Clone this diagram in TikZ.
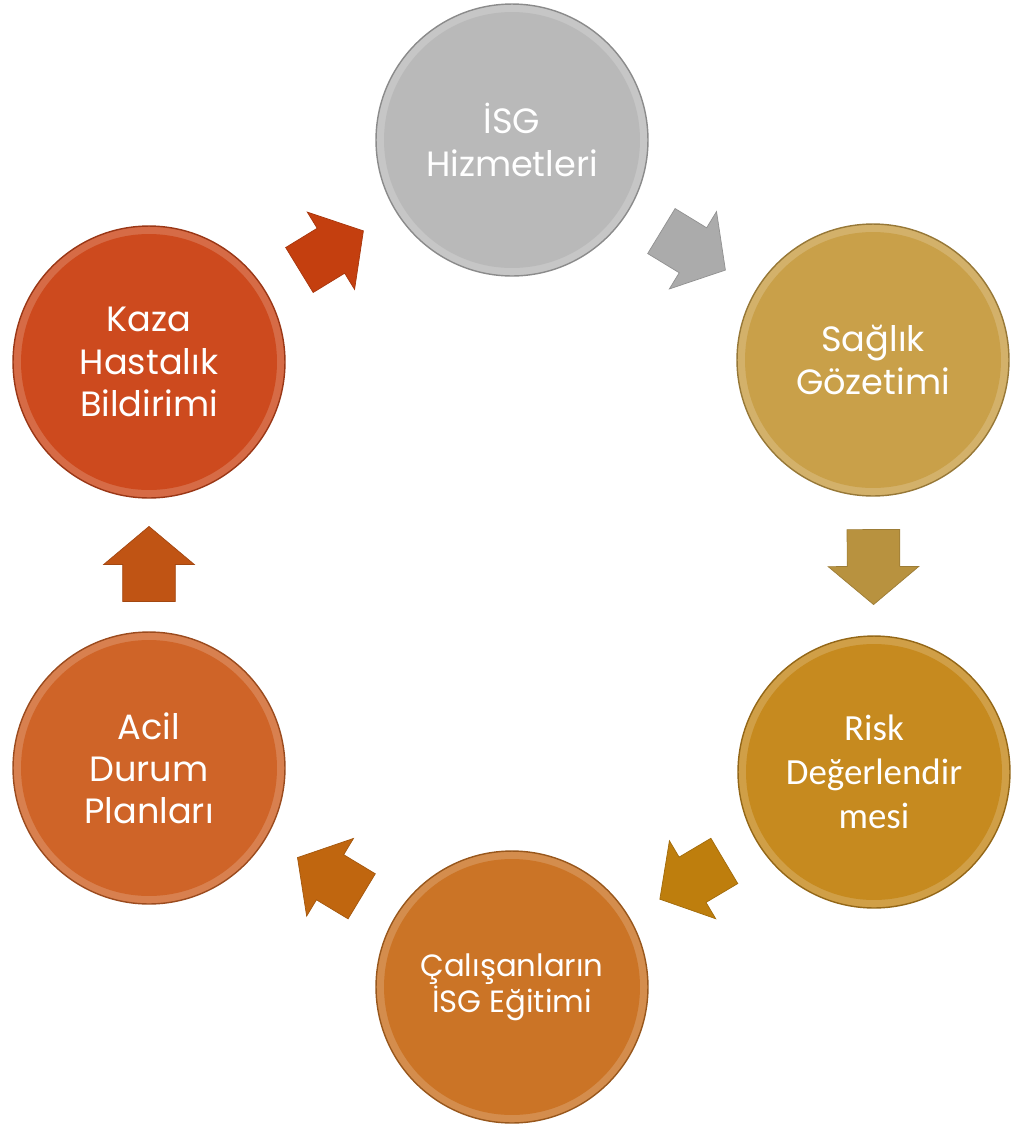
\documentclass[tikz,border=0pt]{standalone}
\usepackage{fontspec}
\setmainfont{Poppins}
\newfontfamily\calibrifont{Carlito}
\usetikzlibrary{shapes.arrows,calc}

\definecolor{isggray}{HTML}{B9B9B9}
\definecolor{saglikgold}{HTML}{C9A049}
\definecolor{riskgold}{HTML}{C68A1F}
\definecolor{egitimorange}{HTML}{CB7426}
\definecolor{acilorange}{HTML}{CF6428}
\definecolor{kazared}{HTML}{CD4A1E}
\definecolor{arrgray}{HTML}{ABABAB}
\definecolor{arrgold}{HTML}{B8923F}
\definecolor{arrrisk}{HTML}{BE7E0D}
\definecolor{arregitim}{HTML}{C0660F}
\definecolor{arracil}{HTML}{C05414}
\definecolor{arrkaza}{HTML}{C43F0F}

\tikzset{
  cyc_node/.style = {circle, minimum size=5.44cm, inner sep=0pt, align=center,
    text=white, font=\fontsize{20}{24}\selectfont, fill=#1, draw=#1!75!black,
    line width=0.8pt,
    path picture={\fill[#1!82!white] (path picture bounding box.center) circle (2.72cm);
      \fill[#1] (path picture bounding box.center) circle (2.56cm);}},% daire
  cyc_arrow/.style = {single arrow, fill=#1, draw=#1!85!black, line width=0.4pt,
    minimum height=1.5cm, minimum width=1.8cm, single arrow head extend=0.38cm,
    single arrow tip angle=100, inner xsep=0pt, inner ysep=0.52cm}% blok ok
}

\begin{document}
\begin{tikzpicture}[x=0.02cm, y=-0.02cm]
\useasboundingbox (0,0) rectangle (1011,1127);
\node [cyc_node=isggray] (isg) at (512,140) {İSG\\Hizmetleri};
\node [cyc_node=saglikgold] (saglik) at (873,360) {Sağlık\\Gözetimi};
\node [cyc_node=riskgold, font=\calibrifont\fontsize{21}{25}\selectfont] (risk) at (874,772) {Risk\\Değerlendir\\mesi};
\node [cyc_node=egitimorange, font=\fontsize{17.5}{18}\selectfont] (egitim) at (512,987) {Çalışanların\\İSG Eğitimi};
\node [cyc_node=acilorange] (acil) at (149,768) {Acil\\Durum\\Planları};
\node [cyc_node=kazared] (kaza) at (149,362) {Kaza\\Hastalık\\Bildirimi};

\foreach \from/\to/\col in {isg/saglik/arrgray, saglik/risk/arrgold, risk/egitim/arrrisk,
    egitim/acil/arregitim, acil/kaza/arracil, kaza/isg/arrkaza}
  \path let \p1 = ($(\to)-(\from)$), \n1 = {atan2(\y1,\x1)},
            \p2 = ($(\from)!0.5!(\to)$) in
    node [cyc_arrow=\col, rotate=\n1] (ok-\from) at ($(\p2)!0.2cm!(\from)$) {};
\end{tikzpicture}
\end{document}
